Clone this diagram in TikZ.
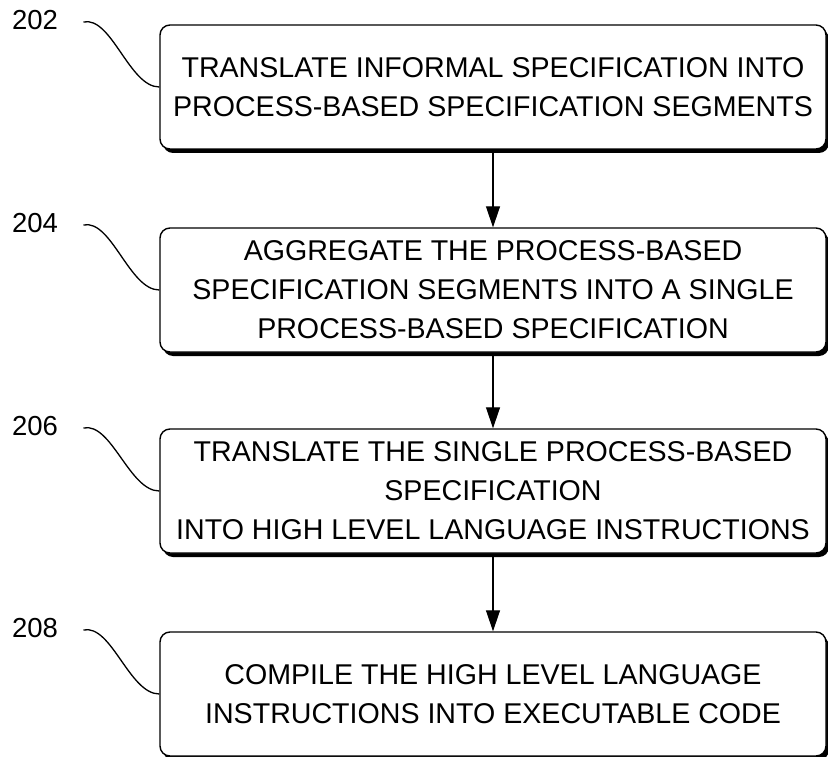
\documentclass[tikz,border=0pt]{standalone}
\usepackage{fontspec}
\setmainfont{Liberation Sans}
\usepackage{tikz}
\usetikzlibrary{arrows.meta}
\usetikzlibrary{shadows}

\begin{document}
\begin{tikzpicture}[x=1pt,y=-1pt,
	stepbox/.style={draw,line width=1.4pt,rounded corners=10pt,fill=white,
		minimum width=666pt,minimum height=124pt,align=center,
		font=\fontsize{28.6}{39}\selectfont,
		drop shadow={shadow xshift=3pt,shadow yshift=-4pt,fill=black,opacity=1}},
	reflabel/.style={font=\fontsize{27.5}{30}\selectfont},
	flow/.style={line width=1.2pt,-{Triangle[length=21pt,width=14pt]}},
	squig/.style={line width=1.3pt}]
		\useasboundingbox (0,0) rectangle (828,757);
		% the four steps
		\node[stepbox] (b202) at (493,87) {TRANSLATE INFORMAL SPECIFICATION INTO\\PROCESS-BASED SPECIFICATION SEGMENTS};
		\node[stepbox] (b204) at (493,290) {AGGREGATE THE PROCESS-BASED\\SPECIFICATION SEGMENTS INTO A SINGLE\\PROCESS-BASED SPECIFICATION};
		\node[stepbox] (b206) at (493,491) {TRANSLATE THE SINGLE PROCESS-BASED\\SPECIFICATION\\INTO HIGH LEVEL LANGUAGE INSTRUCTIONS};
		\node[stepbox] (b208) at (493,694) {COMPILE THE HIGH LEVEL LANGUAGE\\INSTRUCTIONS INTO EXECUTABLE CODE};
		% reference numerals
		\node[reflabel] (l202) at (35,20) {202};
		\node[reflabel] (l204) at (35,223) {204};
		\node[reflabel] (l206) at (35,426) {206};
		\node[reflabel] (l208) at (35,628) {208};
		\foreach \n in {202,204,206,208}{
			\draw[squig] ([xshift=22pt,yshift=-2pt]l\n.east) .. controls +(28,-6) and +(-30,0) .. (b\n.west);
		}
		\draw[flow] (b202) -- (b204);
		\draw[flow] (b204) -- (b206);
		\draw[flow] (b206) -- (b208);
	\end{tikzpicture}
\end{document}
